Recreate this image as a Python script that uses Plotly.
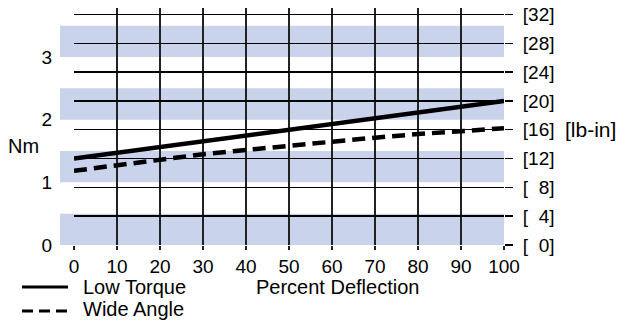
import plotly.graph_objects as go

# ---- data ----
deflection = [0, 10, 20, 30, 40, 50, 60, 70, 80, 90, 100]
low_torque_lbin = [12.0, 12.8, 13.6, 14.4, 15.2, 16.0, 16.8, 17.6, 18.4, 19.2, 20.0]
wide_angle_lbin = [10.3, 11.1, 11.9, 12.6, 13.2, 13.8, 14.4, 14.9, 15.4, 15.8, 16.2]

x_ticks = [0, 10, 20, 30, 40, 50, 60, 70, 80, 90, 100]
nm_ticks = [0, 1, 2, 3]
lbin_ticks = [0, 4, 8, 12, 16, 20, 24, 28, 32]
lbin_labels = ["[\u00a0\u00a00]", "[\u00a0\u00a04]", "[\u00a0\u00a08]", "[12]", "[16]", "[20]", "[24]", "[28]", "[32]"]
band_starts_nm = [0, 1, 2, 3]
band_ends_nm = [0.5, 1.5, 2.5, 3.5]

LBIN_PER_NM = 8.7
LBIN_TOP = 32.9

TICK_FONT = dict(family="Liberation Sans Narrow, Liberation Sans, Arial", size=19, color="black")
TEXT_FONT = dict(family="Liberation Sans, Arial", size=20, color="black")
BAND = "#c9d3eb"

fig = go.Figure()
fig.add_trace(go.Scatter(x=deflection, y=low_torque_lbin, yaxis="y2", mode="lines",
                         line=dict(color="black", width=4.5), name="Low Torque",
                         showlegend=False, hoverinfo="skip"))
fig.add_trace(go.Scatter(x=deflection, y=wide_angle_lbin, yaxis="y2", mode="lines",
                         line=dict(color="black", width=4.5, dash="13px,7px"), name="Wide Angle",
                         showlegend=False, hoverinfo="skip"))

shapes = []
for b0, b1 in zip(band_starts_nm, band_ends_nm):
    shapes.append(dict(type="rect", xref="paper", yref="y", x0=-14 / 430, x1=1, y0=b0, y1=b1,
                       fillcolor=BAND, line=dict(width=0), layer="below"))
# legend samples
shapes.append(dict(type="line", xref="paper", yref="paper", x0=-52 / 430, x1=-6 / 430,
                   y0=-42 / 237, y1=-42 / 237, line=dict(color="black", width=3)))
shapes.append(dict(type="line", xref="paper", yref="paper", x0=-52 / 430, x1=-6 / 430,
                   y0=-66 / 237, y1=-66 / 237, line=dict(color="black", width=3, dash="11px,6px")))

annotations = [
    dict(text="Low Torque", x=7 / 430, y=-42 / 237, xref="paper", yref="paper",
         xanchor="left", yanchor="middle", showarrow=False, font=TEXT_FONT),
    dict(text="Wide Angle", x=7 / 430, y=-64 / 237, xref="paper", yref="paper",
         xanchor="left", yanchor="middle", showarrow=False, font=TEXT_FONT),
    dict(text="Percent Deflection", x=263 / 430, y=-42 / 237, xref="paper", yref="paper",
         xanchor="center", yanchor="middle", showarrow=False, font=TEXT_FONT),
    dict(text="Nm", x=-51 / 430, y=99 / 237, xref="paper", yref="paper",
         xanchor="center", yanchor="middle", showarrow=False, font=TEXT_FONT),
    dict(text="[lb-in]", x=516 / 430, y=116 / 237, xref="paper", yref="paper",
         xanchor="center", yanchor="middle", showarrow=False,
         font=dict(family="Liberation Sans, Arial", size=21, color="black")),
]

fig.update_layout(
    width=621, height=323,
    margin=dict(l=74, r=117, t=8, b=78, autoexpand=False),
    paper_bgcolor="white", plot_bgcolor="white",
    showlegend=False, hovermode=False,
    shapes=shapes, annotations=annotations,
    xaxis=dict(range=[0, 100], tickvals=x_ticks, showgrid=True, gridcolor="#222",
               gridwidth=1.5, zeroline=False, showline=False, ticks="outside", ticklen=4,
               tickcolor="#222", tickwidth=1.5, tickfont=TICK_FONT, fixedrange=True,
               automargin=False),
    yaxis=dict(range=[0, LBIN_TOP / LBIN_PER_NM], tickvals=nm_ticks, showgrid=False,
               zeroline=False, showline=False, ticks="outside", ticklen=17,
               tickcolor="rgba(0,0,0,0)", tickfont=TICK_FONT, side="left", automargin=False),
    yaxis2=dict(range=[0, LBIN_TOP], tickvals=lbin_ticks, ticktext=lbin_labels,
                overlaying="y", side="right", showgrid=True, gridcolor="black",
                gridwidth=1.5, zeroline=False, showline=False, ticks="outside",
                ticklen=8, tickcolor="black", tickwidth=1.5, tickfont=TICK_FONT,
                ticklabelstandoff=6, automargin=False),
)

fig.write_html("out.html", config={"displayModeBar": False, "staticPlot": True},
               post_script="document.body.style.margin='0';document.body.style.overflow='hidden';")
